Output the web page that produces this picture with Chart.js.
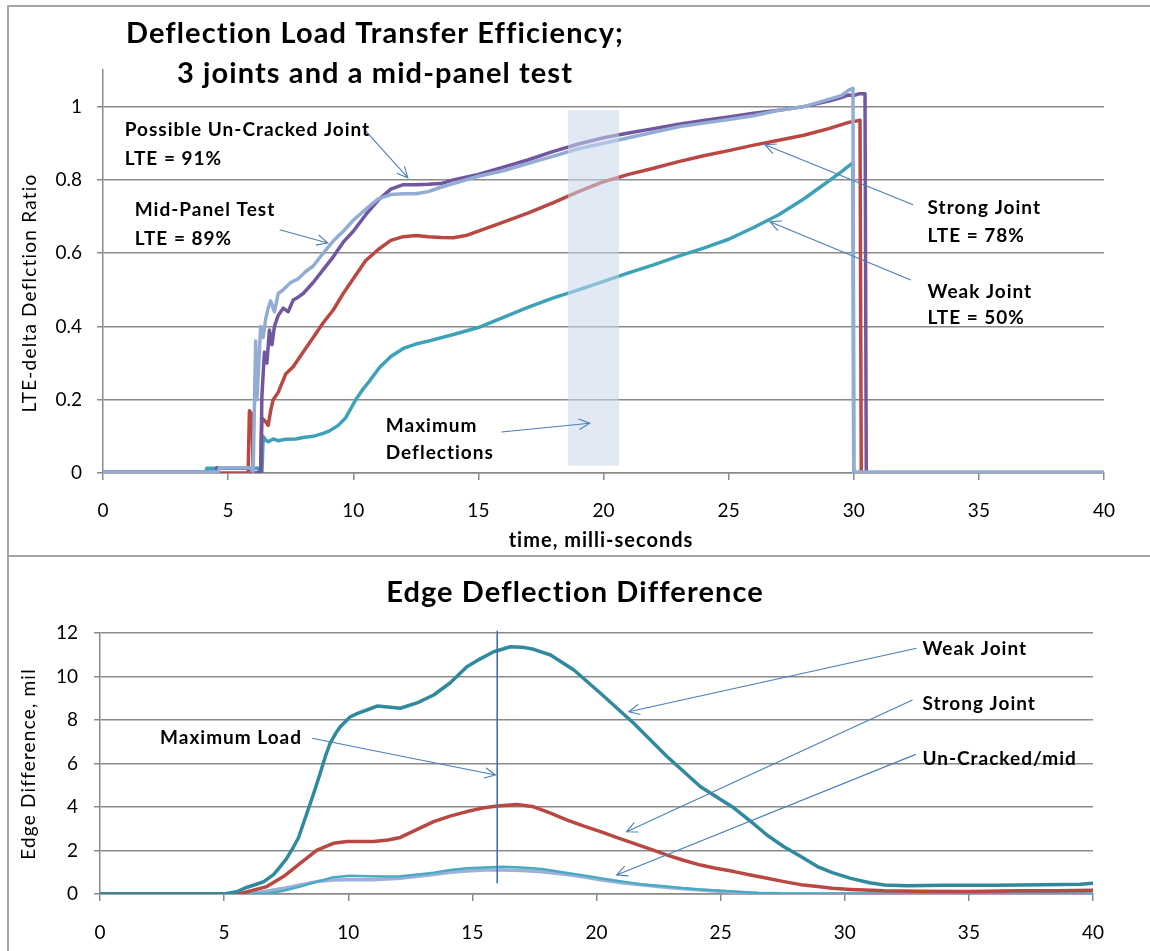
<!DOCTYPE html>
<html>
<head>
<meta charset="utf-8">
<title>Deflection Load Transfer Efficiency</title>
<script src="https://cdn.jsdelivr.net/npm/chart.js@4.4.1/dist/chart.umd.min.js"></script>
<style>
  html, body { margin: 0; padding: 0; background: #fff; overflow: hidden; }
  body { width: 1150px; height: 951px; position: relative; }
  .frame { position: absolute; left: 7px; right: -10px; border-left: 2px solid #a6a6a6; border-top: 2px solid #a6a6a6; }
  #topFrame { top: 5px; height: 550px; }
  #bottomFrame { top: 555px; bottom: -10px; }
  canvas { position: absolute; left: 0; }
  #lteChart { top: 0; }
  #edgeChart { top: 557px; }
</style>
</head>
<body>
<div class="frame" id="topFrame"></div>
<div class="frame" id="bottomFrame"></div>
<canvas id="lteChart" width="1150" height="557"></canvas>
<canvas id="edgeChart" width="1150" height="394"></canvas>
<script>
const FONT = "Lato, 'Open Sans', sans-serif";
const AXIS_GREY = '#8a8a8a';
const NOTE_BLUE = '#4a7ebb';

// ---- LTE (delta deflection ratio) traces, time in ms ----
const midTime = [0, 4.6, 4.65, 5.9, 6.0, 6.1, 6.15, 6.25, 6.3, 6.4, 6.5, 6.6, 6.7, 6.85, 7.0, 7.2, 7.5, 7.8, 8.1, 8.4, 8.8, 9.2, 9.6, 10.0, 10.5, 11.0, 11.5, 12.0, 12.5, 13.0, 13.5, 14.0, 15.0, 16.0, 17.0, 18.0, 19.0, 20.0, 21.0, 22.0, 23.0, 24.0, 25.0, 26.0, 27.0, 28.0, 29.0, 29.5, 29.8, 29.97, 30.0, 40];
const midLte = [0.003, 0.003, 0.014, 0.014, 0.005, 0.36, 0.2, 0.33, 0.40, 0.37, 0.42, 0.45, 0.47, 0.44, 0.49, 0.50, 0.52, 0.53, 0.55, 0.565, 0.60, 0.633, 0.66, 0.69, 0.72, 0.748, 0.76, 0.762, 0.762, 0.768, 0.78, 0.79, 0.81, 0.825, 0.845, 0.865, 0.885, 0.90, 0.915, 0.93, 0.945, 0.955, 0.965, 0.975, 0.99, 1.0, 1.02, 1.03, 1.045, 1.05, 0.003, 0.003];

const uncrackedTime = [0, 4.5, 4.55, 5.9, 6.0, 6.3, 6.35, 6.45, 6.55, 6.65, 6.75, 6.85, 7.0, 7.2, 7.4, 7.6, 7.8, 8.0, 8.4, 8.8, 9.2, 9.6, 10.0, 10.5, 11.0, 11.5, 12.0, 12.5, 13.0, 13.5, 14.0, 15.0, 16.0, 17.0, 18.0, 19.0, 20.0, 21.0, 22.0, 23.0, 24.0, 25.0, 26.0, 27.0, 28.0, 29.0, 29.5, 29.8, 30.0, 30.2, 30.45, 30.5, 40];
const uncrackedLte = [0.003, 0.003, 0.014, 0.014, 0.0, 0.0, 0.21, 0.33, 0.30, 0.39, 0.35, 0.40, 0.43, 0.45, 0.44, 0.472, 0.48, 0.49, 0.52, 0.555, 0.59, 0.63, 0.66, 0.705, 0.745, 0.775, 0.787, 0.787, 0.788, 0.79, 0.80, 0.815, 0.835, 0.855, 0.878, 0.898, 0.915, 0.928, 0.94, 0.952, 0.962, 0.972, 0.982, 0.99, 1.0, 1.015, 1.025, 1.032, 1.03, 1.035, 1.035, 0.0, 0.0];

const strongTime = [0, 5.8, 5.85, 5.95, 6.0, 6.3, 6.35, 6.5, 6.6, 6.7, 6.8, 7.0, 7.3, 7.6, 8.0, 8.4, 8.8, 9.2, 9.6, 10.0, 10.5, 11.0, 11.5, 12.0, 12.5, 13.0, 13.5, 14.0, 14.5, 15.0, 16.0, 17.0, 18.0, 19.0, 20.0, 21.0, 22.0, 23.0, 24.0, 25.0, 26.0, 27.0, 28.0, 29.0, 29.8, 30.25, 30.3, 40];
const strongLte = [0.0, 0.0, 0.17, 0.16, 0.0, 0.0, 0.15, 0.14, 0.13, 0.17, 0.20, 0.22, 0.27, 0.29, 0.33, 0.37, 0.41, 0.445, 0.49, 0.53, 0.58, 0.61, 0.635, 0.645, 0.648, 0.645, 0.643, 0.642, 0.648, 0.66, 0.685, 0.71, 0.738, 0.768, 0.795, 0.815, 0.832, 0.85, 0.866, 0.88, 0.895, 0.908, 0.922, 0.94, 0.957, 0.963, 0.0, 0.0];

const weakTime = [0, 4.1, 4.15, 6.2, 6.25, 6.35, 6.4, 6.5, 6.6, 6.8, 7.0, 7.3, 7.7, 8.0, 8.4, 8.8, 9.05, 9.4, 9.7, 10.1, 10.4, 10.65, 11.05, 11.5, 12.0, 12.5, 13.0, 14.0, 15.0, 16.0, 17.0, 18.0, 19.0, 20.0, 21.0, 22.0, 23.0, 24.0, 25.0, 26.0, 27.0, 28.0, 29.0, 29.5, 29.97, 30.0, 40];
const weakLte = [0.0, 0.0, 0.013, 0.013, 0.0, 0.0, 0.10, 0.09, 0.085, 0.093, 0.088, 0.092, 0.093, 0.097, 0.10, 0.108, 0.115, 0.13, 0.151, 0.20, 0.23, 0.251, 0.288, 0.318, 0.34, 0.352, 0.36, 0.378, 0.397, 0.425, 0.453, 0.478, 0.50, 0.523, 0.546, 0.568, 0.592, 0.614, 0.638, 0.67, 0.705, 0.748, 0.797, 0.822, 0.847, 0.0, 0.0];

// ---- Edge deflection difference traces (mil), time in ms ----
const edgeWeakTime = [0, 5.0, 5.5, 5.9, 6.3, 6.6, 7.0, 7.26, 7.5, 7.8, 8.0, 8.33, 8.6, 8.87, 9.1, 9.27, 9.5, 9.68, 10.08, 10.4, 10.75, 11.16, 11.6, 12.1, 12.8, 13.44, 14.1, 14.78, 15.3, 15.86, 16.53, 17.0, 17.47, 18.15, 19.09, 20.16, 21.5, 22.85, 24.19, 25.54, 26.2, 26.88, 27.55, 28.23, 28.9, 29.5, 30.24, 31.0, 31.6, 32.5, 34.0, 36.0, 38.0, 39.5, 40];
const edgeWeak = [0, 0.0, 0.1, 0.3, 0.45, 0.57, 0.9, 1.26, 1.6, 2.17, 2.6, 3.7, 4.6, 5.55, 6.4, 6.93, 7.4, 7.69, 8.15, 8.32, 8.46, 8.64, 8.6, 8.54, 8.8, 9.15, 9.7, 10.45, 10.8, 11.14, 11.37, 11.35, 11.25, 10.99, 10.3, 9.23, 7.85, 6.31, 4.93, 3.95, 3.35, 2.7, 2.17, 1.72, 1.26, 0.98, 0.72, 0.52, 0.41, 0.38, 0.40, 0.40, 0.42, 0.45, 0.50];

const edgeStrongTime = [0, 5.6, 6.18, 6.72, 7.39, 8.06, 8.74, 9.4, 9.95, 11.02, 11.6, 12.1, 12.8, 13.44, 14.1, 14.78, 15.4, 16.0, 16.8, 17.47, 18.15, 18.82, 19.5, 20.16, 20.8, 21.5, 22.2, 22.85, 23.5, 24.19, 24.8, 25.54, 26.2, 26.88, 27.55, 28.23, 28.9, 29.5, 30.24, 31.6, 33.0, 35.0, 37.0, 38.5, 40];
const edgeStrong = [0, 0.0, 0.18, 0.34, 0.8, 1.41, 2.02, 2.33, 2.41, 2.41, 2.48, 2.6, 2.98, 3.33, 3.58, 3.79, 3.95, 4.05, 4.12, 4.01, 3.72, 3.4, 3.12, 2.87, 2.6, 2.33, 2.05, 1.79, 1.55, 1.33, 1.18, 1.03, 0.87, 0.72, 0.57, 0.43, 0.34, 0.26, 0.21, 0.15, 0.13, 0.12, 0.15, 0.15, 0.17];

const edgeUncrackedTime = [0, 6.0, 6.72, 7.39, 8.06, 8.74, 9.4, 10.08, 10.75, 11.5, 12.1, 12.8, 13.44, 14.1, 14.78, 15.5, 16.2, 17.0, 17.8, 18.82, 19.5, 20.16, 21.0, 21.8, 22.85, 23.5, 24.19, 25.54, 26.5, 27.5, 30.0, 40];
const edgeUncracked = [0, 0, 0.02, 0.15, 0.34, 0.57, 0.77, 0.84, 0.82, 0.80, 0.82, 0.90, 0.98, 1.10, 1.18, 1.22, 1.25, 1.22, 1.15, 0.97, 0.85, 0.72, 0.58, 0.45, 0.34, 0.27, 0.21, 0.11, 0.05, 0.02, 0.01, 0.02];

const edgeMidTime = [0, 5.5, 6.2, 6.8, 7.39, 8.06, 8.74, 9.4, 10.0, 11.0, 12.1, 12.8, 13.44, 14.1, 14.78, 15.5, 16.2, 17.0, 17.8, 18.82, 19.5, 20.16, 21.0, 21.8, 22.85, 24.19, 25.54, 26.5, 27.5, 40];
const edgeMid = [0, 0, 0.05, 0.15, 0.26, 0.41, 0.57, 0.64, 0.66, 0.66, 0.72, 0.82, 0.90, 1.0, 1.06, 1.10, 1.10, 1.08, 1.02, 0.90, 0.78, 0.65, 0.52, 0.42, 0.30, 0.18, 0.08, 0.03, 0.01, 0.01];

// ---- callouts, placed in data units ----
const lteLabels = [
  { text: 'Possible Un-Cracked Joint', t: 0.87, v: 0.939 },
  { text: 'LTE = 91%', t: 0.87, v: 0.860 },
  { text: 'Mid-Panel Test', t: 1.27, v: 0.721 },
  { text: 'LTE = 89%', t: 1.27, v: 0.642 },
  { text: 'Strong Joint', t: 32.95, v: 0.725 },
  { text: 'LTE = 78%', t: 32.95, v: 0.650 },
  { text: 'Weak Joint', t: 32.95, v: 0.497 },
  { text: 'LTE = 50%', t: 32.95, v: 0.427 },
  { text: 'Maximum', t: 11.3, v: 0.130 },
  { text: 'Deflections', t: 11.3, v: 0.057 }
];
const lteArrows = [
  { from: [10.45, 0.937], to: [12.18, 0.806] },
  { from: [7.06, 0.664], to: [8.98, 0.628] },
  { from: [32.37, 0.732], to: [26.45, 0.896] },
  { from: [32.28, 0.527], to: [26.65, 0.686] },
  { from: [15.92, 0.112], to: [19.45, 0.136] }
];
const maxDeflectionBand = { t0: 18.58, t1: 20.62, v0: 0.02, v1: 0.99 };

const edgeLabels = [
  { text: 'Maximum Load', t: 2.42, v: 7.23 },
  { text: 'Weak Joint', t: 33.13, v: 11.32 },
  { text: 'Strong Joint', t: 33.13, v: 8.77 },
  { text: 'Un-Cracked/mid', t: 33.13, v: 6.24 }
];
const edgeArrows = [
  { from: [8.54, 7.16], to: [15.93, 5.47] },
  { from: [32.89, 11.3], to: [21.3, 8.38] },
  { from: [32.73, 8.92], to: [21.21, 2.86] },
  { from: [32.86, 6.42], to: [20.81, 0.87] }
];
const maxLoadLine = { t: 16, v0: 0.5, v1: 12.1 };

function trace(label, times, values, color, width) {
  return {
    label,
    data: times.map((t, i) => ({ x: t, y: values[i] })),
    borderColor: color,
    borderWidth: width,
    pointRadius: 0,
    tension: 0,
    fill: false,
    borderJoinStyle: 'round',
    borderCapStyle: 'round'
  };
}

function drawArrow(ctx, x1, y1, x2, y2) {
  const ang = Math.atan2(y2 - y1, x2 - x1);
  const head = 12, spread = 0.45;
  ctx.beginPath();
  ctx.moveTo(x1, y1);
  ctx.lineTo(x2, y2);
  ctx.moveTo(x2 - head * Math.cos(ang - spread), y2 - head * Math.sin(ang - spread));
  ctx.lineTo(x2, y2);
  ctx.lineTo(x2 - head * Math.cos(ang + spread), y2 - head * Math.sin(ang + spread));
  ctx.stroke();
}

// draws the callouts, shaded band, marker line and free text (titles)
const notesPlugin = {
  id: 'notes',
  afterDatasetsDraw(chart, args, opts) {
    const { ctx } = chart;
    const xs = chart.scales.x, ys = chart.scales.y;
    const px = t => xs.getPixelForValue(t);
    const py = v => ys.getPixelForValue(v);
    ctx.save();

    if (opts.band) {
      const b = opts.band;
      ctx.fillStyle = 'rgba(200, 215, 236, 0.55)';
      ctx.fillRect(px(b.t0), py(b.v1), px(b.t1) - px(b.t0), py(b.v0) - py(b.v1));
    }
    if (opts.marker) {
      const m = opts.marker;
      ctx.strokeStyle = '#3f70b5';
      ctx.lineWidth = 1.6;
      ctx.beginPath();
      ctx.moveTo(px(m.t), py(m.v0));
      ctx.lineTo(px(m.t), py(m.v1));
      ctx.stroke();
    }

    ctx.strokeStyle = NOTE_BLUE;
    ctx.lineWidth = 1.1;
    (opts.arrows || []).forEach(a => drawArrow(ctx, px(a.from[0]), py(a.from[1]), px(a.to[0]), py(a.to[1])));

    ctx.fillStyle = '#000';
    ctx.textBaseline = 'alphabetic';
    ctx.textAlign = 'left';
    ctx.letterSpacing = '1px';
    ctx.font = `bold 19px ${FONT}`;
    (opts.labels || []).forEach(l => ctx.fillText(l.text, px(l.t), py(l.v) + 7));

    ctx.textAlign = 'center';
    if (opts.xTitle) {
      ctx.font = `bold 20px ${FONT}`;
      ctx.fillText(opts.xTitle.text, opts.xTitle.x, opts.xTitle.y);
    }
    ctx.letterSpacing = '1.1px';
    ctx.font = `bold 29px ${FONT}`;
    (opts.titles || []).forEach(t => ctx.fillText(t.text, t.x, t.y));

    if (opts.yTitle) {
      ctx.letterSpacing = '1.2px';
      ctx.font = `19px ${FONT}`;
      ctx.translate(opts.yTitle.x, opts.yTitle.y);
      ctx.rotate(-Math.PI / 2);
      ctx.textBaseline = 'middle';
      ctx.fillText(opts.yTitle.text, 0, 0);
    }
    ctx.restore();
  }
};

function xAxis(height, labelPad) {
  return {
    type: 'linear', min: 0, max: 40,
    ticks: { stepSize: 5, color: '#000', font: { family: FONT, size: 19 }, padding: labelPad, maxRotation: 0 },
    grid: { drawOnChartArea: false, drawTicks: true, tickLength: 7, color: AXIS_GREY, lineWidth: 1.5 },
    border: { color: AXIS_GREY, width: 1.5 },
    afterFit: s => { s.height = height; }
  };
}

function yAxis(width, max, step, labelPad) {
  return {
    min: 0, max,
    ticks: {
      stepSize: step, includeBounds: false, color: '#000',
      font: { family: FONT, size: 19 }, padding: labelPad,
      callback: v => String(Math.round(v * 10) / 10)
    },
    grid: { color: AXIS_GREY, lineWidth: 1.5, tickLength: 6 },
    border: { color: AXIS_GREY, width: 1.5 },
    afterFit: s => { s.width = width; }
  };
}

new Chart(document.getElementById('lteChart'), {
  type: 'line',
  data: {
    datasets: [
      trace('Mid-Panel Test', midTime, midLte, '#93acd4', 3.5),
      trace('Possible Un-Cracked Joint', uncrackedTime, uncrackedLte, '#7157a0', 3.5),
      trace('Strong Joint', strongTime, strongLte, '#b94842', 3.5),
      trace('Weak Joint', weakTime, weakLte, '#3da2b7', 3.5)
    ]
  },
  options: {
    responsive: false,
    animation: false,
    layout: { padding: { left: 0, right: 46, top: 70, bottom: 0 } },
    plugins: {
      legend: { display: false },
      tooltip: { enabled: false },
      notes: {
        labels: lteLabels,
        arrows: lteArrows,
        band: maxDeflectionBand,
        titles: [
          { text: 'Deflection Load Transfer Efficiency;', x: 375, y: 43 },
          { text: '3 joints and a mid-panel test', x: 375, y: 83 }
        ],
        xTitle: { text: 'time, milli-seconds', x: 601, y: 547 },
        yTitle: { text: 'LTE-delta Deflction Ratio', x: 30, y: 293 }
      }
    },
    scales: {
      x: xAxis(84, 19),
      y: yAxis(103, 1.1, 0.2, 15)
    }
  },
  plugins: [notesPlugin]
});

new Chart(document.getElementById('edgeChart'), {
  type: 'line',
  data: {
    datasets: [
      trace('Weak Joint', edgeWeakTime, edgeWeak, '#31899e', 3.5),
      trace('Strong Joint', edgeStrongTime, edgeStrong, '#b94842', 3.5),
      trace('Un-Cracked', edgeUncrackedTime, edgeUncracked, '#4aaac4', 2.5),
      trace('Mid-Panel', edgeMidTime, edgeMid, '#9cb1d8', 3.5)
    ]
  },
  options: {
    responsive: false,
    animation: false,
    layout: { padding: { left: 0, right: 57, top: 76, bottom: 0 } },
    plugins: {
      legend: { display: false },
      tooltip: { enabled: false },
      notes: {
        labels: edgeLabels,
        arrows: edgeArrows,
        marker: maxLoadLine,
        titles: [{ text: 'Edge Deflection Difference', x: 575, y: 45 }],
        yTitle: { text: 'Edge Difference, mil', x: 29, y: 207 }
      }
    },
    scales: {
      x: xAxis(57, 20),
      y: yAxis(100, 12, 2, 16)
    }
  },
  plugins: [notesPlugin]
});
</script>
</body>
</html>
